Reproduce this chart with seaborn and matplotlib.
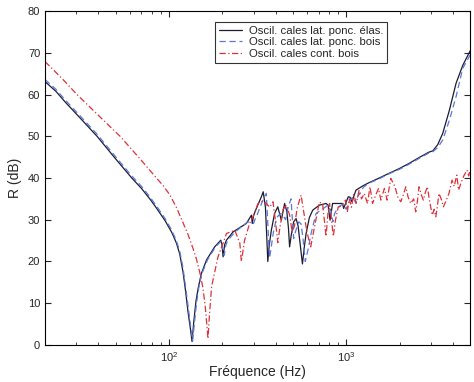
import pandas as pd
import matplotlib
matplotlib.use("Agg")
import matplotlib.pyplot as plt
import seaborn as sns

# Frequencies (Hz) and transmission loss R (dB)
elas_f = [20, 23, 26, 32, 39.3, 50, 61.7, 70, 78, 86, 95, 103.6, 110, 115, 120, 124,
          128, 132, 135, 138, 142, 146, 152, 163, 181, 196, 199, 202, 206, 211, 230,
          273, 292, 295, 300, 311, 332, 340, 350, 356, 361, 368, 378, 394, 411, 430,
          449, 462, 472, 479, 490, 505, 521, 535, 550, 566, 580, 594, 619, 647, 705,
          769, 790, 810, 837, 900, 953, 966, 1026, 1050, 1076, 1134, 1250, 1346, 1500,
          1738, 2000, 2260, 2600, 2925, 3077, 3280, 3500, 3819, 4161, 4540, 5000]
elas_r = [63.1, 60.8, 58.2, 54.1, 50, 44.6, 40, 37.5, 35, 32.5, 29.8, 27, 24.5, 21.8, 17.5, 13,
          8, 4, 0.8, 5.5, 10.5, 13.5, 17, 20.4, 23.5, 25.1, 24, 21.1, 24, 25.1, 27.1,
          29.1, 31.1, 29.1, 31, 32.7, 35.5, 36.7, 33, 26, 20, 24, 27.5, 31.5, 33.1, 29.9,
          33.9, 32, 28, 23.5, 26.5, 29.5, 30.3, 28.5, 24, 19.4, 23.5, 26.8, 30.5, 32.3, 33.5,
          33.9, 33.5, 29.9, 33.9, 33.9, 33.9, 32.7, 35.5, 35.4, 34.3, 37.1, 38.2, 38.9, 39.8,
          41.1, 42.3, 43.5, 45, 46.2, 46.5, 48, 50.7, 56.3, 62.7, 67, 70.5]

bois_f = [20, 23, 26, 32, 39.3, 50, 61.7, 70, 78, 86, 95, 103.6, 110, 115, 120, 124,
          128, 132, 136, 139, 143, 147, 153, 165, 183, 198, 201, 205, 209, 214, 235,
          278, 300, 305, 311, 330, 345, 354, 362, 369, 376, 388, 405, 425, 440, 455,
          470, 488, 505, 520, 540, 556, 570, 587, 610, 634, 675, 730, 790, 820, 840,
          860, 900, 960, 1000, 1040, 1090, 1134, 1160, 1250, 1346, 1500, 1738, 2000,
          2260, 2600, 2925, 3077, 3280, 3500, 3819, 4161, 4540, 5000]
bois_r = [63.6, 61.3, 58.7, 54.6, 50.5, 45.1, 40.5, 38, 35.5, 33, 30.3, 27.5, 25, 22.5, 18.5, 14,
          9.5, 5, 1, 5, 10, 13.5, 17, 20.4, 23.5, 25, 23, 21.5, 23.8, 25, 27,
          29.5, 29.1, 30, 30.7, 33.5, 35.5, 36.3, 28, 20.8, 23, 27, 30.5, 31.5, 31, 30,
          33, 35, 25.5, 27.5, 29.5, 29, 25.5, 20, 23, 26.8, 31.5, 32.5, 33.5, 32, 29.5,
          31.5, 33, 33.8, 32.5, 34.5, 35.5, 33.9, 35.5, 37.8, 38.8, 39.6, 41, 42.1,
          43.3, 44.8, 46, 46.3, 47.3, 49.1, 53.9, 59.5, 66.3, 69.5]

cont_f = [20, 25, 30.3, 40, 53, 68, 85, 93, 101, 110, 120, 128, 137, 143, 149, 155,
          160, 163, 166, 169, 174, 189, 202, 211, 235, 251, 256, 267, 285, 300, 318,
          340, 354, 370, 386, 398, 411, 422, 440, 460, 480, 495, 510, 530, 556, 575,
          600, 630, 660, 705, 735, 769, 790, 805, 825, 845, 870, 900, 950, 990, 1015,
          1040, 1070, 1100, 1140, 1180, 1220, 1262, 1318, 1360, 1407, 1469, 1520, 1567,
          1640, 1700, 1782, 1880, 1950, 2029, 2100, 2165, 2230, 2308, 2400, 2464, 2520,
          2572, 2650, 2720, 2790, 2865, 2950, 3055, 3130, 3200, 3270, 3330, 3430, 3530,
          3650, 3793, 3952, 4060, 4200, 4300, 4450, 4600, 4800, 4900, 5000]
cont_r = [67.9, 63.8, 60, 55, 50, 44.8, 40, 38.1, 36, 33, 29.3, 26.5, 23, 20.5, 17.5, 14,
          9.5, 5.5, 1.5, 7, 14, 21.1, 24.4, 26.7, 27.5, 24.4, 20, 25.1, 29.1, 31, 33.9,
          34.5, 33.9, 33, 34.3, 30, 24.5, 28, 32.5, 33.5, 31, 27, 28.5, 33, 35.9, 32,
          27, 23.5, 28, 34.2, 33.9, 26, 32, 33.9, 30, 26, 30, 33, 33.5, 34.7, 32,
          35, 33, 36, 34, 37, 35, 36.3, 33.9, 37.9, 33.9, 36, 37.5, 34.7,
          37.5, 34.7, 39.9, 38, 35.5, 34.3, 36, 37.9, 35.5, 33.9, 35, 31.9, 34.5,
          37.9, 36, 34.7, 36.5, 37.9, 34.5, 31.1, 32.5, 30.7, 33.5, 36.3, 35, 33.1,
          34.5, 36.3, 39.5, 38, 40.7, 37.1, 39, 40.5, 41.9, 40.5, 42]

labels = ["Oscil. cales lat. ponc. élas.",
          "Oscil. cales lat. ponc. bois",
          "Oscil. cales cont. bois"]


def main():
    sns.set_style("ticks")
    plt.rcParams["font.family"] = ["Liberation Sans", "DejaVu Sans"]

    fig = plt.figure(figsize=(4.74, 3.82), dpi=100)
    ax = fig.add_axes([0.095, 0.097, 0.897, 0.874])

    series = [
        (elas_f, elas_r, labels[0], "#1c1c30", "-"),
        (bois_f, bois_r, labels[1], "#5878dc", (0, (5, 3))),
        (cont_f, cont_r, labels[2], "#e0303a", (0, (5, 2, 1, 2))),
    ]
    for f, r, lab, col, ls in series:
        df = pd.DataFrame({"f": f, "R": r})
        sns.lineplot(data=df, x="f", y="R", ax=ax, color=col, linestyle=ls,
                     linewidth=0.9, label=lab)

    ax.set_xscale("log")
    ax.set_xlim(20, 5000)
    ax.set_ylim(0, 80)
    ax.set_yticks(range(0, 81, 10))
    ax.set_xlabel("Fréquence (Hz)", fontsize=10, labelpad=1)
    ax.set_ylabel("R (dB)", fontsize=10, labelpad=4)
    ax.tick_params(which="both", direction="in", top=True, right=True, labelsize=8)
    ax.tick_params(which="major", length=4)
    ax.tick_params(which="minor", length=2)
    for s in ax.spines.values():
        s.set_linewidth(0.8)
        s.set_color("black")

    leg = ax.legend(loc="upper right", bbox_to_anchor=(0.805, 0.967), borderaxespad=0,
                    fontsize=8.2, frameon=True, fancybox=False, handlelength=2.0,
                    labelspacing=0.12, borderpad=0.35, handletextpad=0.6)
    leg.get_frame().set_edgecolor("black")
    leg.get_frame().set_linewidth(0.8)

    fig.savefig("out.png", dpi=100)


if __name__ == "__main__":
    main()
